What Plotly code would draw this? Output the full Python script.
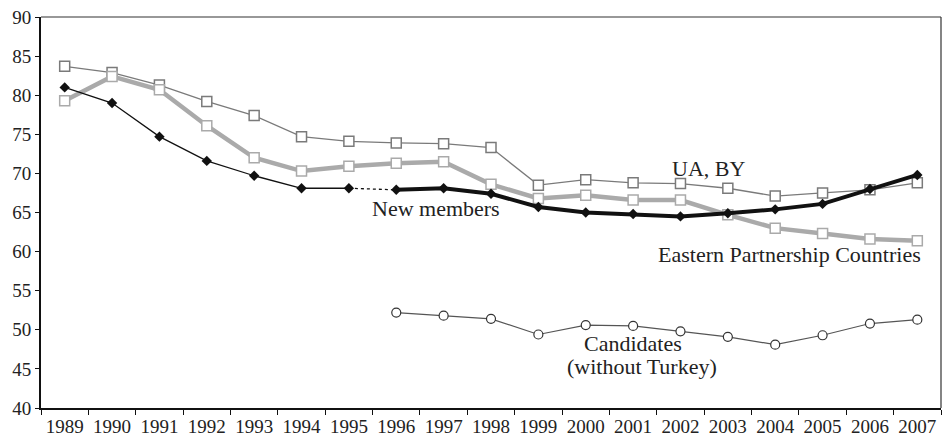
import plotly.graph_objects as go

years = [str(y) for y in range(1989, 2008)]

# New members (1989-1995 thin, 1996-2007 thick)
new_members = [81.0, 79.0, 74.7, 71.6, 69.7, 68.1, 68.1, 67.9, 68.1, 67.4,
               65.7, 65.0, 64.8, 64.5, 64.9, 65.4, 66.1, 68.0, 69.8]
eastern_partnership = [79.3, 82.4, 80.7, 76.1, 72.0, 70.3, 70.9, 71.3, 71.5, 68.6,
                       66.8, 67.2, 66.6, 66.6, 64.7, 63.0, 62.3, 61.6, 61.4]
ua_by = [83.7, 82.9, 81.3, 79.2, 77.4, 74.7, 74.1, 73.9, 73.8, 73.3,
         68.5, 69.2, 68.8, 68.7, 68.1, 67.1, 67.5, 67.9, 68.8]
candidate_years = [str(y) for y in range(1996, 2008)]
candidates = [52.2, 51.8, 51.4, 49.4, 50.6, 50.5, 49.8, 49.1, 48.1, 49.3, 50.8, 51.3]

FONT = "Liberation Serif"
TEXT = "#222222"

fig = go.Figure()

fig.add_trace(go.Scatter(
    x=years, y=ua_by, mode="lines+markers",
    line=dict(color="#7a7a7a", width=1.3),
    marker=dict(symbol="square", size=10, color="white",
                line=dict(color="#7a7a7a", width=1.5)),
))

fig.add_trace(go.Scatter(
    x=years, y=eastern_partnership, mode="lines+markers",
    line=dict(color="#aaaaaa", width=4.5),
    marker=dict(symbol="square", size=10, color="white",
                line=dict(color="#aaaaaa", width=1.5)),
))

# thin black 1989-1995
fig.add_trace(go.Scatter(
    x=years[:7], y=new_members[:7], mode="lines+markers",
    line=dict(color="#111111", width=1.3),
    marker=dict(symbol="diamond", size=8, color="#111111"),
))
# dotted connector 1995-1996
fig.add_trace(go.Scatter(
    x=years[6:8], y=new_members[6:8], mode="lines",
    line=dict(color="#111111", width=1.3, dash="dot"),
))
# thick black 1996-2007
fig.add_trace(go.Scatter(
    x=years[7:], y=new_members[7:], mode="lines+markers",
    line=dict(color="#111111", width=4),
    marker=dict(symbol="diamond", size=8, color="#111111"),
))

fig.add_trace(go.Scatter(
    x=candidate_years, y=candidates, mode="lines+markers",
    line=dict(color="#555555", width=1.2),
    marker=dict(symbol="circle", size=9, color="white",
                line=dict(color="#333333", width=1.2)),
))

ann_font = dict(family=FONT, size=22, color=TEXT)
fig.add_annotation(x=13.6, y=70.6, text="UA, BY", showarrow=False, font=ann_font)
fig.add_annotation(x=7.84, y=65.45, text="New members", showarrow=False, font=ann_font)
fig.add_annotation(x=18.12, y=59.6, text="Eastern Partnership Countries", showarrow=False,
                   xanchor="right", font=ann_font)
fig.add_annotation(x=11.99, y=48.3, text="Candidates", showarrow=False, font=ann_font)
fig.add_annotation(x=12.19, y=45.37, text="(without Turkey)", showarrow=False, font=ann_font)

# top and right frame
fig.add_shape(type="line", xref="paper", yref="paper", x0=0, x1=1, y0=1, y1=1,
              line=dict(color="#333333", width=1.2))
fig.add_shape(type="line", xref="paper", yref="paper", x0=1, x1=1, y0=0, y1=1,
              line=dict(color="#333333", width=1.2))

fig.update_layout(
    width=944, height=438,
    margin=dict(l=41, r=3, t=17, b=30),
    plot_bgcolor="white", paper_bgcolor="white",
    showlegend=False,
    font=dict(family=FONT, size=19, color=TEXT),
    xaxis=dict(
        type="category", range=[-0.5, 18.5],
        showline=True, linecolor="#111111", linewidth=2,
        ticks="outside", tickson="boundaries", ticklen=5, tickcolor="#111111",
        tickangle=0, automargin=False,
        showgrid=False, zeroline=False,
    ),
    yaxis=dict(
        range=[40, 90], dtick=5, tick0=40,
        showline=True, linecolor="#111111", linewidth=2,
        ticks="outside", ticklen=4, tickcolor="#111111",
        automargin=False,
        showgrid=False, zeroline=False,
    ),
)

fig.write_html("out.html", config={"displayModeBar": False},
               post_script="document.body.style.margin='0';")
